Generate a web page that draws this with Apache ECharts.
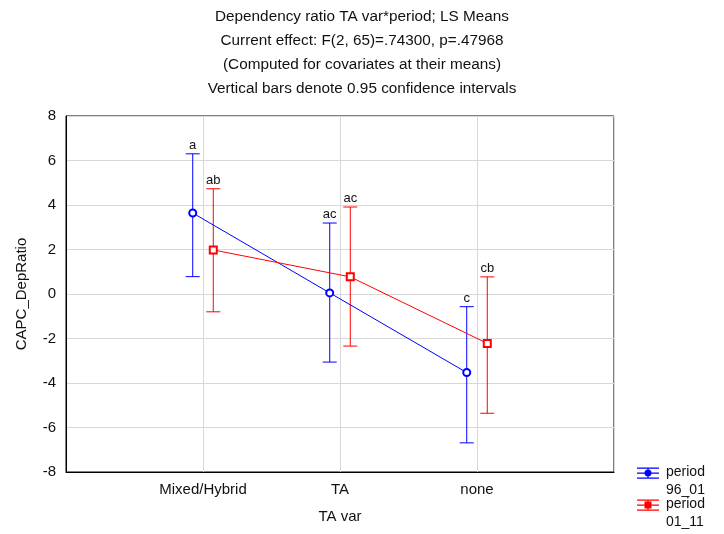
<!DOCTYPE html>
<html>
<head>
<meta charset="utf-8">
<script src="https://cdn.jsdelivr.net/npm/echarts@6/dist/echarts.min.js"></script>
<style>
  html, body { margin: 0; padding: 0; background: #fff; }
  #chart-container { width: 724px; height: 534px; }
</style>
</head>
<body>
<div id="chart-container"></div>
<script>
const categories = ['Mixed/Hybrid', 'TA', 'none'];
const yTicks = [-8, -6, -4, -2, 0, 2, 4, 6, 8];

// period 96_01
const means96 = [3.64, 0.05, -3.53];
const upper96 = [6.30, 3.19, -0.57];
const lower96 = [0.78, -3.06, -6.69];
const letters96 = ['a', 'ac', 'c'];

// period 01_11
const means01 = [1.98, 0.77, -2.22];
const upper01 = [4.73, 3.91, 0.77];
const lower01 = [-0.80, -2.34, -5.36];
const letters01 = ['ab', 'ac', 'cb'];

const seriesNames = ['period 96_01', 'period 01_11'];
const colors = ['#0000ff', '#ff0000'];
const shift = 0.075;
const font = 'Liberation Sans, Arial, sans-serif';

document.addEventListener('DOMContentLoaded', function () {

    const chartContainer = document.getElementById('chart-container');

    const pos = (i, dir) => i + 1 + dir * shift;

    const pointData = (means, dir) => means.map((v, i) => [pos(i, dir), v]);
    const barData = (lower, upper, letters, dir) =>
        lower.map((v, i) => [pos(i, dir), v, upper[i], letters[i]]);

    const errorBars = function (color) {
        return function (params, api) {
            const x = api.value(0);
            const lo = api.coord([x, api.value(1)]);
            const hi = api.coord([x, api.value(2)]);
            const half = 7;
            const st = { stroke: color, lineWidth: 1 };
            return {
                type: 'group',
                children: [
                    { type: 'line', shape: { x1: lo[0], y1: lo[1], x2: hi[0], y2: hi[1] }, style: st },
                    { type: 'line', shape: { x1: lo[0] - half, y1: lo[1], x2: lo[0] + half, y2: lo[1] }, style: st },
                    { type: 'line', shape: { x1: hi[0] - half, y1: hi[1], x2: hi[0] + half, y2: hi[1] }, style: st },
                    {
                        type: 'text',
                        style: {
                            text: api.value(3), x: hi[0], y: hi[1] - 2,
                            align: 'center', verticalAlign: 'bottom',
                            fill: '#111', font: '13px ' + font
                        }
                    }
                ]
            };
        };
    };

    const iconBars = 'M0,0H22V1.2H0Z M0,5H22V6.2H0Z M0,10H22V11.2H0Z M10.4,0H11.6V11H10.4Z M0,27H0.01V27.01H0Z';
    const iconCircle = iconBars + ' M14.5,5.6A3.5,3.5 0 1,1 7.5,5.6A3.5,3.5 0 1,1 14.5,5.6Z';
    const iconSquare = iconBars + ' M7.5,2.1H14.5V9.1H7.5Z';

    const option = {
        animation: false,
        title: {
            text: 'Dependency ratio TA var*period; LS Means\nCurrent effect: F(2, 65)=.74300, p=.47968\n(Computed for covariates at their means)\nVertical bars denote 0.95 confidence intervals',
            left: 'center',
            top: 5,
            padding: 0,
            textStyle: { fontFamily: font, fontSize: 15.3, fontWeight: 'normal', color: '#111', lineHeight: 24 }
        },
        legend: {
            orient: 'vertical',
            left: 637,
            top: 463,
            padding: 0,
            itemWidth: 22,
            itemHeight: 27,
            itemGap: -4,
            formatter: name => name.replace(' ', '\n'),
            textStyle: { fontFamily: font, fontSize: 14, color: '#111', lineHeight: 18, padding: [0, 0, 0, 2] },
            data: [
                { name: seriesNames[0], icon: 'path://' + iconCircle },
                { name: seriesNames[1], icon: 'path://' + iconSquare }
            ]
        },
        grid: {
            left: 66, right: 110, top: 116, bottom: 62,
            show: true, borderColor: '#000', borderWidth: 1
        },
        xAxis: {
            type: 'value',
            min: 0, max: 4, interval: 1,
            name: 'TA var',
            nameLocation: 'middle',
            nameGap: 37,
            nameTextStyle: { fontFamily: font, fontSize: 15, color: '#111' },
            axisLine: { onZero: false, lineStyle: { color: '#000' } },
            axisTick: { show: false },
            axisLabel: {
                margin: 10,
                fontFamily: font, fontSize: 15, color: '#111',
                formatter: v => categories[v - 1] || ''
            },
            splitLine: { lineStyle: { color: '#d8d8d8' } }
        },
        yAxis: {
            type: 'value',
            min: yTicks[0], max: yTicks[yTicks.length - 1], interval: 2,
            name: 'CAPC_DepRatio',
            nameLocation: 'middle',
            nameGap: 37,
            nameRotate: 90,
            nameTextStyle: { fontFamily: font, fontSize: 15, color: '#111' },
            axisLine: { show: true, onZero: false, lineStyle: { color: '#000' } },
            axisTick: { show: false },
            axisLabel: { margin: 10, fontFamily: font, fontSize: 15, color: '#111' },
            splitLine: { lineStyle: { color: '#d8d8d8' } }
        },
        series: [
            {
                name: seriesNames[0],
                type: 'custom',
                renderItem: errorBars(colors[0]),
                itemStyle: { color: colors[0] },
                data: barData(lower96, upper96, letters96, -1),
                z: 2
            },
            {
                name: seriesNames[1],
                type: 'custom',
                renderItem: errorBars(colors[1]),
                itemStyle: { color: colors[1] },
                data: barData(lower01, upper01, letters01, 1),
                z: 2
            },
            {
                name: seriesNames[0],
                type: 'line',
                data: pointData(means96, -1),
                symbol: 'emptyCircle',
                symbolSize: 7,
                itemStyle: { color: colors[0], borderWidth: 2 },
                lineStyle: { color: colors[0], width: 1 },
                z: 3
            },
            {
                name: seriesNames[1],
                type: 'line',
                data: pointData(means01, 1),
                symbol: 'emptyRect',
                symbolSize: 7,
                itemStyle: { color: colors[1], borderWidth: 2 },
                lineStyle: { color: colors[1], width: 1 },
                z: 3
            }
        ]
    };

    const chart = echarts.init(chartContainer);
    chart.setOption(option);

})
</script>
</body>
</html>
